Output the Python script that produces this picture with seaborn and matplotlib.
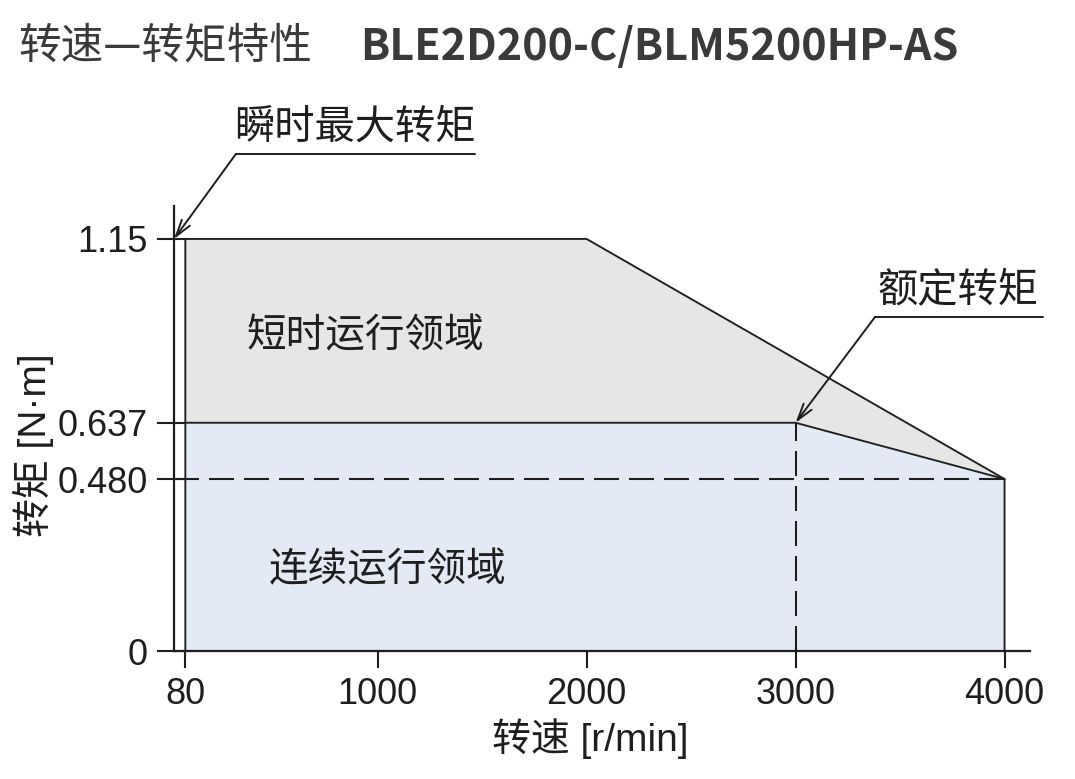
import matplotlib
matplotlib.use("Agg")
import matplotlib.pyplot as plt
import seaborn as sns

# speed [r/min] and torque [N·m] corners of the two regions
speed_max = [80, 2000, 4000]
torque_max = [1.15, 1.15, 0.48]
speed_rated = [80, 3000, 4000]
torque_rated = [0.637, 0.637, 0.48]
rated_speed = 3000
rated_torque = 0.637
max_speed_torque = 0.48

x_ticks = [80, 1000, 2000, 3000, 4000]
y_ticks = [0, 0.480, 0.637, 1.15]
y_tick_labels = ["0", "0.480", "0.637", "1.15"]

sns.set_theme(style="white")

latin = "Liberation Sans"
cjk = "Noto Sans CJK SC"
plt.rcParams["font.family"] = [latin, cjk, "DejaVu Sans"]

ink = "#1e1e1e"
gray_fill = "#e6e6e6"
blue_fill = "#e3eaf5"

fig = plt.figure(figsize=(10.75, 7.79), dpi=100)
ax = fig.add_axes([0.1619, 0.1643, 0.958 - 0.1619, 0.7356 - 0.1643])

# regions
ax.fill_between(speed_max, torque_max, 0, color=gray_fill, lw=0)
ax.fill_between(speed_rated, torque_rated, 0, color=blue_fill, lw=0)

# outlines
outline_x = [speed_max[0]] + speed_max + [speed_max[-1]]
outline_y = [0] + torque_max + [0]
sns.lineplot(x=outline_x, y=outline_y, sort=False, estimator=None, color=ink, lw=1.35, ax=ax)
sns.lineplot(x=speed_rated, y=torque_rated, sort=False, estimator=None, color=ink, lw=1.35, ax=ax)

xmin, xmax = 26, 4121
dash = (0, (12, 4.8))
ax.plot([xmin, speed_max[-1]], [max_speed_torque, max_speed_torque], color=ink, lw=1.5, ls=dash)
ax.plot([rated_speed, rated_speed], [0, rated_torque], color=ink, lw=1.5, ls=dash)

ax.set_xlim(xmin, xmax)
ax.set_ylim(0, 1.242)

ax.set_xticks(x_ticks)
ax.set_yticks(y_ticks)
ax.set_yticklabels(y_tick_labels)
ax.tick_params(axis="x", direction="out", length=12, width=1.5, colors=ink, labelsize=26, pad=7)
ax.tick_params(axis="y", direction="inout", length=24, width=1.5, colors=ink, labelsize=26, pad=7)
ax.tick_params(left=True, bottom=True)

for side in ["top", "right"]:
    ax.spines[side].set_visible(False)
for side in ["left", "bottom"]:
    ax.spines[side].set_color(ink)
    ax.spines[side].set_linewidth(1.6)

ax.set_xlabel("转速 [r/min]", fontsize=28, color=ink, family=[latin, cjk], va="center")
ax.xaxis.set_label_coords(0.486, -0.196)
ax.set_ylabel("转矩 [N·m]", fontsize=28, color=ink, family=[latin, cjk], va="center")
ax.yaxis.set_label_coords(-0.164, 0.463)

# region labels
ax.text(944, 0.878, "短时运行领域", fontsize=28.5, color=ink, family=cjk, ha="center", va="center")
ax.text(1050, 0.224, "连续运行领域", fontsize=28.5, color=ink, family=cjk, ha="center", va="center")

# callouts
arrow = dict(arrowstyle="->,head_length=1.0,head_width=0.3", color=ink, lw=1.4,
             shrinkA=0, shrinkB=0)
ax.annotate("", xy=(xmin, 1.15), xytext=(322, 1.387), arrowprops=arrow, annotation_clip=False)
ax.plot([322, 1466], [1.387, 1.387], color=ink, lw=1.4, clip_on=False)
ax.text(892, 1.462, "瞬时最大转矩", fontsize=29, color=ink, family=cjk, ha="center", va="center")

ax.annotate("", xy=(rated_speed, rated_torque), xytext=(3380, 0.932), arrowprops=arrow,
            annotation_clip=False)
ax.plot([3380, 4184], [0.932, 0.932], color=ink, lw=1.4, clip_on=False)
ax.text(3777, 1.008, "额定转矩", fontsize=29, color=ink, family=cjk, ha="center", va="center")

# title
fig.text(0.0167, 0.94, "转速—转矩特性", fontsize=30.7, color="#3a3a3a", family=cjk, va="center")
fig.text(0.335, 0.94, "BLE2D200-C/BLM5200HP-AS", fontsize=31, color="#3a3a3a", family=cjk,
         weight="bold", va="center")

fig.savefig("out.png", dpi=100)
